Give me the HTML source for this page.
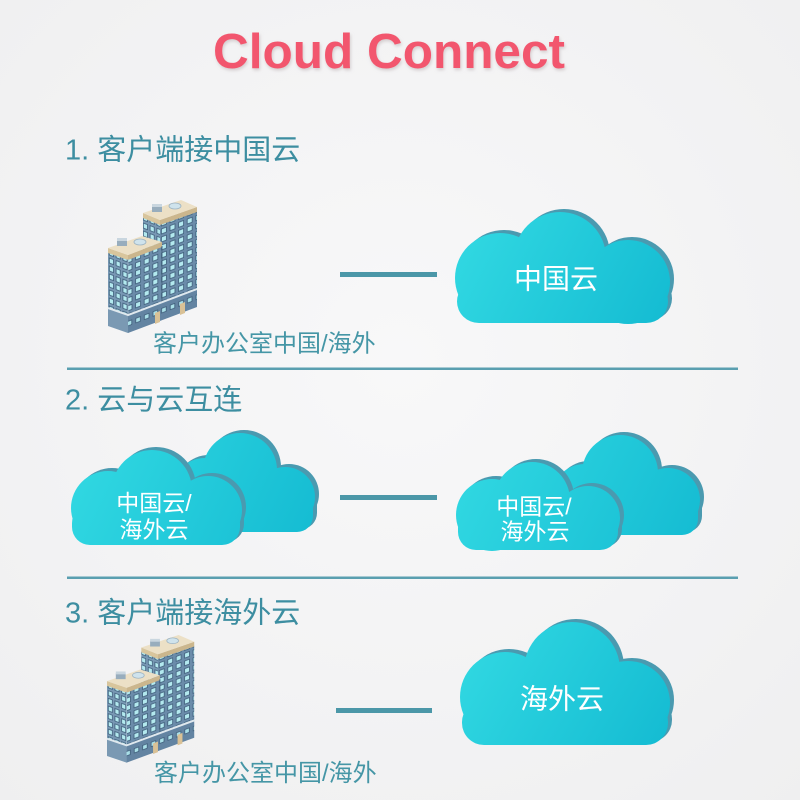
<!DOCTYPE html>
<html>
<head>
<meta charset="utf-8">
<style>
  html,body{margin:0;padding:0;background:#f4f4f5;}
  svg{display:block;}
  text{font-family:"Liberation Sans","Noto Sans CJK SC",sans-serif;}
</style>
</head>
<body>
<svg width="800" height="800" viewBox="0 0 800 800" xmlns="http://www.w3.org/2000/svg">
  <defs>
    <radialGradient id="bg" cx="50%" cy="45%" r="75%">
      <stop offset="0" stop-color="#f8f8f9"/>
      <stop offset="1" stop-color="#efeff0"/>
    </radialGradient>
    <filter id="tshadow" x="-10%" y="-30%" width="120%" height="160%">
      <feDropShadow dx="1" dy="2" stdDeviation="1.6" flood-color="#b9aeb0" flood-opacity="0.55"/>
    </filter>
    <linearGradient id="g1" gradientUnits="userSpaceOnUse" x1="455" y1="212" x2="670" y2="323">
      <stop offset="0" stop-color="#33dae3"/><stop offset="1" stop-color="#14bbd2"/>
    </linearGradient>
    <linearGradient id="g3" gradientUnits="userSpaceOnUse" x1="460" y1="622" x2="670" y2="745">
      <stop offset="0" stop-color="#33dae3"/><stop offset="1" stop-color="#14bbd2"/>
    </linearGradient>
    <linearGradient id="gL" gradientUnits="userSpaceOnUse" x1="70" y1="433" x2="315" y2="548">
      <stop offset="0" stop-color="#33dae3"/><stop offset="1" stop-color="#14bbd2"/>
    </linearGradient>
    <linearGradient id="gR" gradientUnits="userSpaceOnUse" x1="455" y1="435" x2="700" y2="552">
      <stop offset="0" stop-color="#33dae3"/><stop offset="1" stop-color="#14bbd2"/>
    </linearGradient>

    <pattern id="winR" patternUnits="userSpaceOnUse" width="8.6" height="8" patternTransform="skewY(-21)">
      <rect width="8.6" height="8" fill="#6b8caa"/>
      <rect x="1.8" y="1.5" width="5" height="5" fill="#b3e9ef" stroke="#3d5c78" stroke-width="0.8"/>
    </pattern>
    <pattern id="winL" patternUnits="userSpaceOnUse" width="6.8" height="8" patternTransform="skewY(21)">
      <rect width="6.8" height="8" fill="#7898b4"/>
      <rect x="1.3" y="1.5" width="4.2" height="5" fill="#b3e9ef" stroke="#3d5c78" stroke-width="0.8"/>
    </pattern>
    <pattern id="winB" patternUnits="userSpaceOnUse" width="8.6" height="18" patternTransform="skewY(-21)">
      <rect width="8.6" height="18" fill="#6384a2"/>
      <rect x="2" y="3" width="4.6" height="4.6" fill="#a9dfe8" stroke="#3d5c78" stroke-width="0.8"/>
    </pattern>

    <g id="bld">
      <!-- tall tower -->
      <polygon points="35,17 52,24 52,70 35,63" fill="url(#winL)"/>
      <polygon points="52,24 89,10 89,89 52,103" fill="url(#winR)"/>
      <polygon points="35,13 52,20 52,25 35,18" fill="#d8c59c"/>
      <polygon points="52,20 89,7 89,12 52,25" fill="#cbb68d"/>
      <polygon points="35,13 73,0 89,7 52,20" fill="#ece0c6"/>
      <rect x="44" y="6" width="10" height="6" fill="#98adbd"/>
      <rect x="44" y="4" width="10" height="3" fill="#c9d6df"/>
      <ellipse cx="67" cy="6" rx="6" ry="3" fill="#cfe3ec" stroke="#9db3c2" stroke-width="0.8"/>
      <!-- short tower -->
      <polygon points="0,52 20,59 20,115 0,108" fill="url(#winL)"/>
      <polygon points="20,59 54,46 54,102 20,115" fill="url(#winR)"/>
      <polygon points="0,48 20,55 20,60 0,53" fill="#d8c59c"/>
      <polygon points="20,55 54,42 54,47 20,60" fill="#cbb68d"/>
      <polygon points="0,48 34,36 54,42 20,55" fill="#ece0c6"/>
      <rect x="9" y="40" width="10" height="6" fill="#98adbd"/>
      <rect x="9" y="38" width="10" height="3" fill="#c9d6df"/>
      <ellipse cx="32" cy="42" rx="6" ry="3" fill="#cfe3ec" stroke="#9db3c2" stroke-width="0.8"/>
      <line x1="54" y1="46" x2="54" y2="102" stroke="#4a6984" stroke-width="1"/>
      <line x1="20" y1="59" x2="20" y2="133" stroke="#9fb6c8" stroke-width="0.8"/>
      <!-- base -->
      <polygon points="0,108 20,115 20,133 0,126" fill="#7a99b3"/>
      <polygon points="20,115 89,89 89,107 20,133" fill="url(#winB)"/>
      <polyline points="0,108 20,115 89,89" stroke="#dfe8ee" stroke-width="2" fill="none"/>
      <polygon points="47,113 52,111 52,122 47,124" fill="#d9c196"/>
      <polygon points="72,104 77,102 77,113 72,115" fill="#d9c196"/>
    </g>
  </defs>

  <rect width="800" height="800" fill="url(#bg)"/>

  <!-- Title -->
  <text x="389" y="68" text-anchor="middle" font-size="49.5" font-weight="bold" fill="#f2566e" filter="url(#tshadow)">Cloud Connect</text>

  <!-- Section 1 -->
  <text x="65" y="159.5" font-size="29" fill="#3d8ea1">1. 客户端接中国云</text>
  <use href="#bld" transform="translate(108,200)"/>
  <text x="153" y="351.5" font-size="24" fill="#4596a6">客户办公室中国/海外</text>
  <rect x="340" y="272" width="97" height="5" fill="#4b97a8"/>

  <!-- Cloud 1 -->
  <g fill="#4a9ab0" transform="translate(4,-3)">
    <rect x="457" y="280" width="211" height="43" rx="22"/>
    <circle cx="500" cy="278" r="45"/>
    <circle cx="560" cy="258" r="46"/>
    <circle cx="628" cy="282" r="42"/>
  </g>
  <g fill="url(#g1)">
    <rect x="457" y="280" width="211" height="43" rx="22"/>
    <circle cx="500" cy="278" r="45"/>
    <circle cx="560" cy="258" r="46"/>
    <circle cx="628" cy="282" r="42"/>
  </g>
  <text x="556" y="288.6" text-anchor="middle" font-size="28" fill="#ffffff">中国云</text>

  <!-- Divider 1 -->
  <rect x="67" y="367.5" width="671" height="2.5" fill="#5a9fb0"/>

  <!-- Section 2 -->
  <text x="65" y="409.5" font-size="29" fill="#3d8ea1">2. 云与云互连</text>

  <!-- Left pair: back -->
  <g fill="#4a9ab0" transform="translate(4,-3)">
    <rect x="180" y="490" width="133" height="42" rx="16"/>
    <circle cx="205" cy="492" r="34"/>
    <circle cx="240" cy="470" r="37"/>
    <circle cx="285" cy="497" r="30"/>
  </g>
  <g fill="url(#gL)">
    <rect x="180" y="490" width="133" height="42" rx="16"/>
    <circle cx="205" cy="492" r="34"/>
    <circle cx="240" cy="470" r="37"/>
    <circle cx="285" cy="497" r="30"/>
  </g>
  <!-- Left pair: front -->
  <g fill="#4a9ab0" transform="translate(4,-3)">
    <rect x="72" y="505" width="168" height="40" rx="18"/>
    <circle cx="108" cy="508" r="37"/>
    <circle cx="152" cy="490" r="40"/>
    <circle cx="208" cy="510" r="34"/>
  </g>
  <g fill="url(#gL)">
    <rect x="72" y="505" width="168" height="40" rx="18"/>
    <circle cx="108" cy="508" r="37"/>
    <circle cx="152" cy="490" r="40"/>
    <circle cx="208" cy="510" r="34"/>
  </g>
  <text x="154" y="511.2" text-anchor="middle" font-size="23" fill="#ffffff">中国云/</text>
  <text x="154" y="537.7" text-anchor="middle" font-size="23" fill="#ffffff">海外云</text>

  <rect x="340" y="495" width="97" height="5" fill="#4b97a8"/>

  <!-- Right pair: back -->
  <g fill="#4a9ab0" transform="translate(4,-3)">
    <rect x="560" y="495" width="138" height="40" rx="16"/>
    <circle cx="585" cy="498" r="34"/>
    <circle cx="620" cy="473" r="38"/>
    <circle cx="668" cy="500" r="32"/>
  </g>
  <g fill="url(#gR)">
    <rect x="560" y="495" width="138" height="40" rx="16"/>
    <circle cx="585" cy="498" r="34"/>
    <circle cx="620" cy="473" r="38"/>
    <circle cx="668" cy="500" r="32"/>
  </g>
  <!-- Right pair: front -->
  <g fill="#4a9ab0" transform="translate(4,-3)">
    <rect x="458" y="510" width="160" height="40" rx="18"/>
    <circle cx="492" cy="515" r="36"/>
    <circle cx="532" cy="500" r="38"/>
    <circle cx="588" cy="518" r="32"/>
  </g>
  <g fill="url(#gR)">
    <rect x="458" y="510" width="160" height="40" rx="18"/>
    <circle cx="492" cy="515" r="36"/>
    <circle cx="532" cy="500" r="38"/>
    <circle cx="588" cy="518" r="32"/>
  </g>
  <text x="534" y="514.7" text-anchor="middle" font-size="23" fill="#ffffff">中国云/</text>
  <text x="535" y="539.7" text-anchor="middle" font-size="23" fill="#ffffff">海外云</text>

  <!-- Divider 2 -->
  <rect x="67" y="576.5" width="671" height="2.5" fill="#5a9fb0"/>

  <!-- Section 3 -->
  <text x="65" y="622.5" font-size="29" fill="#3d8ea1">3. 客户端接海外云</text>
  <use href="#bld" transform="translate(107,635) scale(0.98,0.96)"/>
  <text x="154" y="781" font-size="24" fill="#4596a6">客户办公室中国/海外</text>
  <rect x="336" y="708" width="96" height="5" fill="#4b97a8"/>

  <!-- Cloud 3 -->
  <g fill="#4a9ab0" transform="translate(4,-3)">
    <rect x="462" y="700" width="206" height="45" rx="22"/>
    <circle cx="505" cy="697" r="45"/>
    <circle cx="572" cy="670" r="48"/>
    <circle cx="628" cy="703" r="42"/>
  </g>
  <g fill="url(#g3)">
    <rect x="462" y="700" width="206" height="45" rx="22"/>
    <circle cx="505" cy="697" r="45"/>
    <circle cx="572" cy="670" r="48"/>
    <circle cx="628" cy="703" r="42"/>
  </g>
  <text x="562" y="708.6" text-anchor="middle" font-size="28" fill="#ffffff">海外云</text>
</svg>
</body>
</html>
